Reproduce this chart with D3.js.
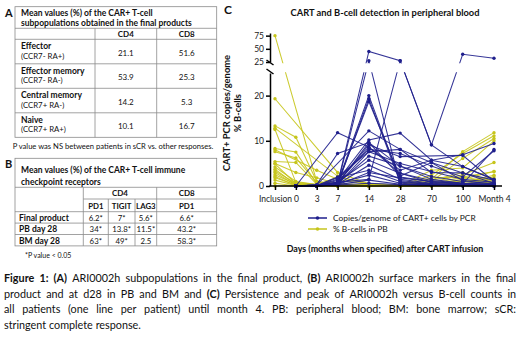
<!DOCTYPE html>
<html>
<head>
<meta charset="utf-8">
<script src="https://cdn.jsdelivr.net/npm/d3@7"></script>
<style>
  body { margin: 0; background: #fff; }
  svg { display: block; font-family: Lato, "Open Sans", sans-serif; }
</style>
</head>
<body>
<div id="fig"></div>
<script>
// x axis timepoints (days, months when specified)
const timepoints = ["Inclusion", "0", "3", "7", "14", "28", "70", "100", "Month 4"];

// CART+ PCR copies/genome, one row per patient, null = not measured
const cartCopies = [
  [null, 0, 0, 0.5, 45, 27.5, 9.1, 39.6, 32],
  [null, 0, 0, 0.4, 27.5, 0.3, 0.2, 0.1, 0],
  [null, 0, 0.2, 0.8, 1.5, 27.5, 9.1, 4.3, 1.5],
  [null, 0, 0, 0.6, 20, 1.2, 0.5, 0.3, 0.2],
  [null, 0, 0, 0.3, 19.3, 0.8, 0.4, 0.2, 0.1],
  [null, 0, 0.1, 0.5, 18.7, 2.0, 1.0, 0.5, 0.3],
  [null, 0, null, 11.8, 8.6, 2.8, 0.8, 0.4, 0.2],
  [null, 0, 0.2, null, 12.2, 8.1, 5.2, 2.9, 1.3],
  [null, 0, 0.3, 7.2, 9.6, 4.4, 1.5, 0.6, 0.3],
  [null, 0, 0.1, 1.2, 10.2, 11.7, 5.7, 6.9, 9.4],
  [null, 0, 0, 0.8, 9.1, 6.5, null, 6.8, 1.0],
  [null, 0, 0, 1.5, 8.1, 7.2, 4.4, 2.0, 7.8],
  [null, 0, 0.1, 2.0, 7.6, 5.0, 3.2, 1.5, 0.8],
  [null, 0, 0, 0.5, 6.6, 4.4, 2.1, 1.0, 0.5],
  [null, 0, 0, 0.9, 5.7, 2.8, 1.2, 0.6, 0.3],
  [null, 0, 0.2, 0.4, 4.6, 1.5, 0.6, 0.2, 0.1],
  [null, 0, 0, 1.8, 3.5, 1.0, 0.4, 0.2, 0.1],
  [null, 0, 0.1, 0.6, 2.4, 0.6, 0.2, 0.1, 0],
  [null, 0, 0, 0.3, 1.3, 0.4, 0.3, 0.1, 0],
  [null, 0, 0, 0.2, 0.6, 0.3, 0.1, 0, 0],
  [null, 0, 0, 0.7, 8.6, 3.5, 5.7, 4.3, 1.4],
  [null, 0, 0, 0.4, 7.6, 8.1, 3.0, 2.9, 0.6],
  [null, 0, 0.1, 0.5, 9.6, 2.2, 5.2, 1.2, 0.4],
  [null, 0, 0, 0.3, 3.0, 1.8, 1.0, 0.5, 8.1]
];

// % B-cells in PB, one row per patient
const bCells = [
  [75, null, 1.0, 0.3, 0.1, 0.1, 0.5, 2.0, 3.2],
  [19.3, null, null, 3.0, 0.5, 0.2, 0.3, 1.0, 1.5],
  [13.3, 10.8, 1.0, 0.5, 0.2, 0.1, 1.5, 7.6, 11.8],
  [12.8, null, null, 2.2, 0.3, 0.1, 2.4, 7.2, 11.1],
  [12.5, 0.8, 0.3, 0.2, 0.1, 0, 0.4, 1.2, 0.6],
  [8.3, 7.5, 0.5, 0.2, 0.1, 0, 1.0, 6.1, 10.5],
  [8.0, null, 3.5, 1.5, 0.3, 0.1, 0.2, 0.4, 0.3],
  [7.6, 6.2, 0.8, 0.3, 0.2, 0.1, 3.5, 4.0, 10.0],
  [5.4, 5.2, 0.4, 0.1, 0, 0, 0.8, 2.5, 5.2],
  [5.0, 3.0, 1.8, 0.5, 0.2, 0.1, 0.5, 1.0, 2.0],
  [4.9, 0.5, 0.2, 0.1, 0.1, 0, 0.5, 1.5, 3.2],
  [4.2, 1.0, 0.3, 0.2, 0.1, 0, 1.2, 3.0, 1.0],
  [3.7, 0.3, 0.1, 0, 0, 0, 0.3, 0.8, 2.4],
  [3.3, 0.6, 0.3, 0.1, 0, 0, 1.8, 2.0, 0.8],
  [3.0, 0.2, 0.1, 0.1, 0, 0, 0.2, 0.5, 1.5],
  [2.5, 0.4, 0.2, 2.0, 0.5, 0.2, 0.3, 0.6, 0.5],
  [2.1, 0.1, 0, 0, 0, 0, 0.1, 0.3, 0.8],
  [1.8, 0.2, 0.1, 0, 0, 0, 0, 0.2, 0.1],
  [1.3, 0.1, 0, 0, 0, 0, 0.1, 0.2, 0.5],
  [0.6, 0, 0, 0, 0, 0, 0, 0.1, 0.2],
  [0, 0, 0, 0, 0, 0, 0, 0, 0]
];

const yTicksLow = [0, 10, 20];
const yTicksHigh = [25, 50, 75];

// table A
const subpopNames = [["Effector", "(CCR7- RA+)"], ["Effector memory", "(CCR7- RA-)"],
                     ["Central memory", "(CCR7+ RA-)"], ["Naive", "(CCR7+ RA+)"]];
const subpopCD4 = ["21.1", "53.9", "14.2", "10.1"];
const subpopCD8 = ["51.6", "25.3", "5.3", "16.7"];

// table B
const checkpointRows = ["Final product", "PB day 28", "BM day 28"];
const checkpointCols = ["PD1", "TIGIT", "LAG3", "PD1"];
const checkpointVals = [
  ["6.2*", "7*", "5.6*", "6.6*"],
  ["34*", "13.8*", "11.5*", "43.2*"],
  ["63*", "49*", "2.5", "58.3*"]
];

const caption = [
  "*Figure* *1:* *(A)* ARI0002h subpopulations in the final product, *(B)* ARI0002h surface markers in the final",
  "product and at d28 in PB and BM and *(C)* Persistence and peak of ARI0002h versus B-cell counts in",
  "all patients (one line per patient) until month 4. PB: peripheral blood; BM: bone marrow; sCR:",
  "stringent complete response."
];

const width = 520, height = 340;
const blue = "#1f1f8c", yellow = "#c6c51c", grid = "#8a8a8a";

const svg = d3.select("#fig").append("svg")
    .attr("width", width)
    .attr("height", height);

// ---------- helpers for the tables ----------
function line(g, x1, y1, x2, y2) {
  g.append("line").attr("x1", x1).attr("y1", y1).attr("x2", x2).attr("y2", y2)
    .attr("stroke", grid).attr("stroke-width", 0.8);
}
function label(g, txt, x, y, size, bold, anchor) {
  return g.append("text").attr("x", x).attr("y", y)
    .attr("dominant-baseline", "central")
    .attr("text-anchor", anchor || "start")
    .attr("font-size", size)
    .attr("font-weight", bold ? "bold" : "normal")
    .attr("fill", "#111")
    .text(txt);
}

// ---------- panel A ----------
const tA = svg.append("g");
label(tA, "A", 5, 12, 11, true);
const aL = 15, aR = 216.7, aC1 = 95, aC2 = 156.7;
const aTop = 6.7, aTitle = 28.3, aHead = 39.3, aRow = 24.5;
tA.append("rect").attr("x", aL).attr("y", aTop).attr("width", aR - aL)
  .attr("height", aHead + aRow * 4 - aTop).attr("fill", "none")
  .attr("stroke", grid).attr("stroke-width", 0.8);
line(tA, aL, aTitle, aR, aTitle);
line(tA, aL, aHead, aR, aHead);
subpopNames.forEach((d, i) => { if (i) line(tA, aL, aHead + aRow * i, aR, aHead + aRow * i); });
line(tA, aC1, aTitle, aC1, aHead + aRow * 4);
line(tA, aC2, aTitle, aC2, aHead + aRow * 4);
label(tA, "Mean values (%) of the CAR+ T-cell", 21, 12.8, 8.5, true);
label(tA, "subpopulations obtained in the final products", 21, 23.2, 8.5, true);
label(tA, "CD4", (aC1 + aC2) / 2, 33.8, 8, true, "middle");
label(tA, "CD8", (aC2 + aR) / 2, 33.8, 8, true, "middle");
subpopNames.forEach((d, i) => {
  const top = aHead + aRow * i;
  label(tA, d[0], 21, top + 7, 8.5, true);
  label(tA, d[1], 21, top + 16.5, 7.8, false);
  label(tA, subpopCD4[i], (aC1 + aC2) / 2, top + 13.5, 8, false, "middle");
  label(tA, subpopCD8[i], (aC2 + aR) / 2, top + 13.5, 8, false, "middle");
});
label(tA, "P value was NS between patients in sCR vs. other responses.", 113, 145.5, 7.6, false, "middle");

// ---------- panel B ----------
const tB = svg.append("g");
label(tB, "B", 5, 163.5, 11, true);
const bL = 15, bR = 216.7;
const bCols = [83.3, 108.3, 135, 156.7];
const bTop = 158.3, bTitle = 187.3, bHead1 = 199, bHead2 = 211.7, bRow = 11.4;
const bBottom = bHead2 + bRow * 3;
tB.append("rect").attr("x", bL).attr("y", bTop).attr("width", bR - bL)
  .attr("height", bBottom - bTop).attr("fill", "none")
  .attr("stroke", grid).attr("stroke-width", 0.8);
line(tB, bL, bTitle, bR, bTitle);
line(tB, bCols[0], bHead1, bR, bHead1);
line(tB, bL, bHead2, bR, bHead2);
checkpointRows.forEach((d, i) => { if (i) line(tB, bL, bHead2 + bRow * i, bR, bHead2 + bRow * i); });
line(tB, bCols[0], bTitle, bCols[0], bBottom);
line(tB, bCols[3], bTitle, bCols[3], bBottom);
line(tB, bCols[1], bHead1, bCols[1], bBottom);
line(tB, bCols[2], bHead1, bCols[2], bBottom);
label(tB, "Mean values (%) of the CAR+ T-cell immune", 21, 170, 8.5, true);
label(tB, "checkpoint receptors", 21, 181.5, 8.5, true);
label(tB, "CD4", (bCols[0] + bCols[3]) / 2, 193.3, 8, true, "middle");
label(tB, "CD8", (bCols[3] + bR) / 2, 193.3, 8, true, "middle");
const colCenters = [(bCols[0] + bCols[1]) / 2, (bCols[1] + bCols[2]) / 2,
                    (bCols[2] + bCols[3]) / 2, (bCols[3] + bR) / 2];
checkpointCols.forEach((c, j) => label(tB, c, colCenters[j], 205.5, 7.8, true, "middle"));
checkpointRows.forEach((r, i) => {
  const cy = bHead2 + bRow * i + bRow / 2 + 0.5;
  label(tB, r, 19, cy, 8.5, true);
  checkpointVals[i].forEach((v, j) => label(tB, v, colCenters[j], cy, 7.8, false, "middle"));
});
label(tB, "*P value < 0.05", 25, 255, 7, false);

// ---------- panel C: chart ----------
const gC = svg.append("g");
label(gC, "C", 228, 9, 12, true, "middle");
label(gC, "CART and B-cell detection in peripheral blood", 385, 12.5, 9.3, true, "middle");

// spacing between neighbouring timepoints (early days closer together)
const slotGap = [0, 2, 2, 2, 3, 3, 3, 3, 3];
const slots = d3.cumsum(slotGap);
const x = d3.scaleLinear().domain([0, d3.max(slots)]).range([275, 494]);
const xAt = i => x(slots[i]);

// broken y axis: lower segment 0-25, upper segment 25-80
const yLow = d3.scaleLinear().domain([0, 25]).range([186, 73]);
const yHigh = d3.scaleLinear().domain([25, 80]).range([62, 33]);
const yAt = v => v > 25 ? yHigh(v) : yLow(v);

const axisX = 270;

svg.append("defs").append("clipPath").attr("id", "breakClip")
  .selectAll("rect")
  .data([[20, 63.2], [72.3, 200]])
  .enter().append("rect")
  .attr("x", axisX - 5).attr("width", 245)
  .attr("y", d => d[0]).attr("height", d => d[1] - d[0]);

const lineGen = d3.line().x(d => xAt(d.i)).y(d => yAt(d.v));
const toPoints = row => row.map((v, i) => ({ v, i })).filter(d => d.v !== null);

function drawSeries(data, color) {
  const g = gC.append("g").attr("clip-path", "url(#breakClip)");
  data.forEach(row => {
    const pts = toPoints(row);
    g.append("path").datum(pts)
      .attr("d", lineGen)
      .attr("fill", "none")
      .attr("stroke", color)
      .attr("stroke-width", 1.05)
      .attr("stroke-opacity", 0.9);
    g.selectAll(null).data(pts).enter().append("circle")
      .attr("cx", d => xAt(d.i))
      .attr("cy", d => yAt(d.v))
      .attr("r", 1.7)
      .attr("fill", color);
  });
}
drawSeries(bCells, yellow);
drawSeries(cartCopies, blue);

// y axes
function styleAxis(g) {
  g.selectAll("path, line").attr("stroke", "#000").attr("stroke-width", 1.5);
  g.selectAll("text").attr("font-size", 8.5).attr("fill", "#222")
    .attr("font-family", "Lato, 'Open Sans', sans-serif");
}
gC.append("g").attr("transform", `translate(${axisX},0)`)
  .call(d3.axisLeft(yLow).tickValues(yTicksLow).tickSize(4).tickSizeOuter(0).tickPadding(2))
  .call(styleAxis);
gC.append("g").attr("transform", `translate(${axisX},0)`)
  .call(d3.axisLeft(yHigh).tickValues(yTicksHigh).tickSize(4).tickSizeOuter(0).tickPadding(2))
  .call(styleAxis);
// break marks
[yHigh(25) + 1, yLow(25) - 1].forEach(yb => {
  gC.append("line").attr("x1", axisX - 3.5).attr("y1", yb - 3)
    .attr("x2", axisX + 3.5).attr("y2", yb + 2)
    .attr("stroke", "#000").attr("stroke-width", 1.5);
});

// x axis
const xAxisG = gC.append("g").attr("transform", `translate(0,${yLow(0)})`)
  .call(d3.axisBottom(x).tickValues(slots).tickFormat((d, i) => timepoints[i])
    .tickSize(4).tickSizeOuter(0).tickPadding(6))
  .call(styleAxis);
xAxisG.select(".domain").remove();
gC.append("line").attr("x1", axisX - 0.75).attr("x2", 502)
  .attr("y1", yLow(0)).attr("y2", yLow(0))
  .attr("stroke", "#000").attr("stroke-width", 1.5);

// y axis title
const yTitle = gC.append("g").attr("transform", "translate(232,113) rotate(-90)");
yTitle.append("text").attr("text-anchor", "middle").attr("font-size", 9.4)
  .attr("font-weight", "bold").attr("fill", "#111").attr("dy", "-0.2em")
  .text("CART+ PCR copies/genome");
yTitle.append("text").attr("text-anchor", "middle").attr("font-size", 9.4)
  .attr("font-weight", "bold").attr("fill", "#111").attr("dy", "1.0em")
  .text("% B-cells");

// legend
const legendItems = [["Copies/genome of CART+ cells by PCR", blue], ["% B-cells in PB", yellow]];
legendItems.forEach((d, i) => {
  const ly = 218 + i * 11;
  gC.append("line").attr("x1", 308).attr("x2", 327).attr("y1", ly).attr("y2", ly)
    .attr("stroke", d[1]).attr("stroke-width", 1.5);
  gC.append("circle").attr("cx", 317.5).attr("cy", ly).attr("r", 1.8).attr("fill", d[1]);
  label(gC, d[0], 333, ly, 8.4, false);
});

label(gC, "Days (months when specified) after CART infusion", 385, 248, 8.9, true, "middle");

// ---------- caption, justified ----------
const capG = svg.append("g");
const capLeft = 4, capRight = 516;
const capBase = [282, 297.5, 313, 328.5];
let capSize = 10.8;
function layoutCaption(size) {
  capG.selectAll("*").remove();
  let minGap = Infinity;
  caption.forEach((ln, li) => {
    const words = ln.split(" ").map(w => {
      const bold = w.startsWith("*") && w.endsWith("*");
      return { t: bold ? w.slice(1, -1) : w, bold };
    });
    const nodes = words.map(w => capG.append("text")
      .attr("y", capBase[li]).attr("font-size", size)
      .attr("font-weight", w.bold ? "bold" : "normal")
      .attr("fill", "#111").text(w.t));
    const widths = nodes.map(n => n.node().getComputedTextLength());
    const total = d3.sum(widths);
    const last = li === caption.length - 1;
    const gap = last ? size * 0.26 : (capRight - capLeft - total) / (words.length - 1);
    if (!last) minGap = Math.min(minGap, gap);
    let cx = capLeft;
    nodes.forEach((n, k) => { n.attr("x", cx); cx += widths[k] + gap; });
  });
  return minGap;
}
while (layoutCaption(capSize) < capSize * 0.22 && capSize > 8) capSize -= 0.2;
</script>
</body>
</html>
